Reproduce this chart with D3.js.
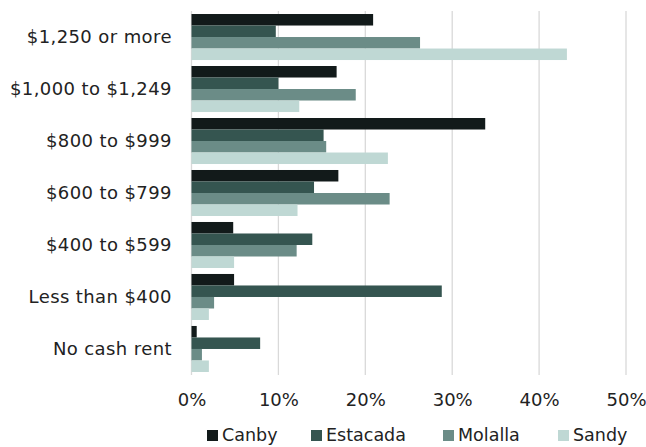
<!DOCTYPE html>
<html><head><meta charset="utf-8">
<script src="https://cdn.jsdelivr.net/npm/d3@7"></script>
<style>body{margin:0;background:#fff}svg text{font-family:"DejaVu Sans",sans-serif;fill:#222}</style>
</head><body>
<svg id="c" width="646" height="447"></svg>
<script>
const categories = ["$1,250 or more","$1,000 to $1,249","$800 to $999","$600 to $799","$400 to $599","Less than $400","No cash rent"];
const seriesNames = ["Canby","Estacada","Molalla","Sandy"];
const canby    = [20.9, 16.7, 33.8, 16.9, 4.8, 4.9, 0.6];
const estacada = [9.7, 10.0, 15.2, 14.1, 13.9, 28.8, 7.9];
const molalla  = [26.3, 18.9, 15.5, 22.8, 12.1, 2.6, 1.2];
const sandy    = [43.2, 12.4, 22.6, 12.2, 4.9, 2.0, 2.0];
const xTicks = [0,10,20,30,40,50];
const colors = ["#121a1a","#355550","#6b8c87","#bfd8d4"];
const seriesVals = [canby, estacada, molalla, sandy];

const svg = d3.select("#c");
const mL = 191.5, mR = 626, mT = 11, mB = 375;
const x = d3.scaleLinear().domain([0,50]).range([mL,mR]);
const y = d3.scaleBand().domain(categories).range([mT,mB]).paddingInner(0.115).paddingOuter(0.058);
const ys = d3.scaleBand().domain(seriesNames).range([0,y.bandwidth()]);

// gridlines
svg.append("g").selectAll("line").data(xTicks).join("line")
  .attr("x1",d=>x(d)).attr("x2",d=>x(d)).attr("y1",mT).attr("y2",mB)
  .attr("stroke","#d9d9d9").attr("stroke-width",1.3);

// bars
categories.forEach((c,i)=>{
  seriesNames.forEach((s,j)=>{
    svg.append("rect").attr("x",x(0)).attr("y",y(c)+ys(s))
      .attr("width",x(seriesVals[j][i])-x(0)).attr("height",ys.bandwidth())
      .attr("fill",colors[j]);
  });
});

// y labels
const yAxis = d3.axisLeft(y).tickSize(0).tickPadding(20);
const yg = svg.append("g").attr("transform",`translate(${mL},0)`).call(yAxis);
yg.select(".domain").remove();
yg.selectAll("text").attr("font-size",18).attr("font-family","DejaVu Sans")
  .attr("letter-spacing","0.4px").attr("dx","0.4").attr("fill","#222");

// x labels
const xAxis = d3.axisBottom(x).tickValues(xTicks).tickFormat(d=>d+"%").tickSize(0).tickPadding(18);
const xg = svg.append("g").attr("transform",`translate(0,${mB})`).call(xAxis);
xg.select(".domain").remove();
xg.selectAll("text").attr("font-size",18).attr("font-family","DejaVu Sans").attr("fill","#222");

// legend
const legX = [207, 311, 443, 558];
seriesNames.forEach((s,j)=>{
  const g = svg.append("g").attr("transform",`translate(${legX[j]},0)`);
  g.append("rect").attr("x",0).attr("y",430).attr("width",11).attr("height",11).attr("fill",colors[j]);
  g.append("text").attr("x",15).attr("y",441).attr("font-size",17.5).text(s);
});
</script>
</body></html>
